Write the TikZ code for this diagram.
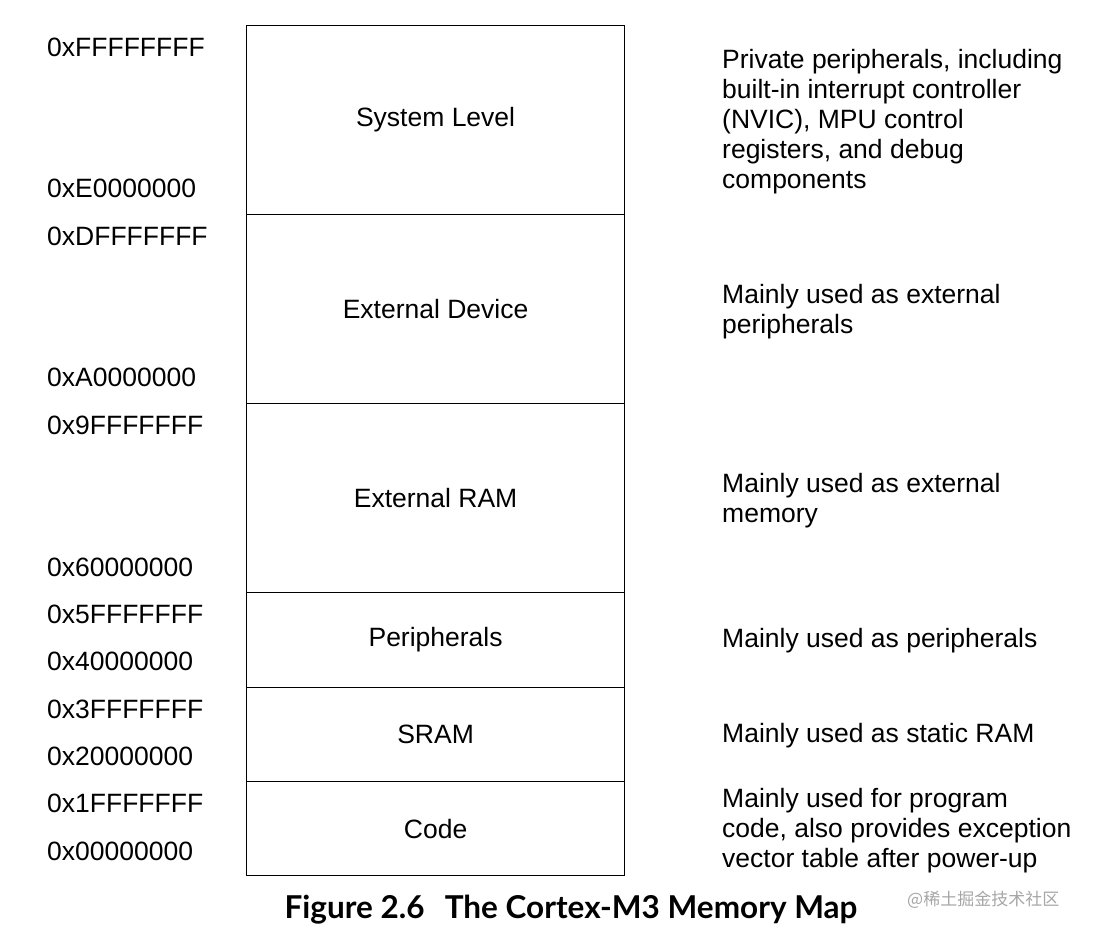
\documentclass[tikz,border=0pt]{standalone}
\usepackage{fontspec}
\setmainfont{Liberation Sans}
\newfontfamily\cjk{Noto Sans CJK SC}
\newfontfamily\capf{Lato}
\begin{document}
\begin{tikzpicture}[x=1pt,y=-1pt,
  addr/.style={anchor=west,inner sep=0pt,font=\fontsize{26.5}{30}\selectfont},
  desc/.style={anchor=west,inner sep=0pt,align=left,font=\fontsize{26.5}{30}\selectfont},
  reg/.style={draw,line width=1.2pt,minimum width=378pt,anchor=north west,inner sep=0pt,font=\fontsize{26.5}{30}\selectfont}]
\useasboundingbox (0,0) rectangle (1093,936);
\node[reg,minimum height=189pt] (sys) at (246,25) {System Level};
\node[reg,minimum height=189pt] (dev) at (246,214) {External Device};
\node[reg,minimum height=189pt] (ram) at (246,403) {External RAM};
\node[reg,minimum height=94.5pt] (per) at (246,592) {Peripherals};
\node[reg,minimum height=94.5pt] (sram) at (246,686.5) {SRAM};
\node[reg,minimum height=94pt] (code) at (246,781) {Code};
\foreach \n/\y/\t in {a1/47/0xFFFFFFFF,a2/188/0xE0000000,a3/236/0xDFFFFFFF,a4/377/0xA0000000,a5/425/0x9FFFFFFF,a6/567/0x60000000,a7/614/0x5FFFFFFF,a8/661/0x40000000,a9/709/0x3FFFFFFF,a10/756/0x20000000,a11/803/0x1FFFFFFF,a12/851/0x00000000}
  \node[addr] (\n) at (47,\y) {\t};
\node[desc] (d1) at (722,122) {Private peripherals, including\\built-in interrupt controller\\(NVIC), MPU control\\registers, and debug\\components};
\node[desc] (d2) at (722,312) {Mainly used as external\\peripherals};
\node[desc] (d3) at (722,501) {Mainly used as external\\memory};
\node[desc] (d4) at (722,641) {Mainly used as peripherals};
\node[desc] (d5) at (722,736) {Mainly used as static RAM};
\node[desc] (d6) at (722,831) {Mainly used for program\\code, also provides exception\\vector table after power-up};
\node[font=\capf\bfseries\fontsize{31.5}{34}\selectfont,inner sep=0pt] (cap) at (571,910) {Figure 2.6\hspace{0.4em} The Cortex-M3 Memory Map};
\node[font=\cjk\fontsize{17}{20}\selectfont,text=gray!70,inner sep=0pt,anchor=west] (wm) at (907,900) {@稀土掘金技术社区};
\end{tikzpicture}
\end{document}
